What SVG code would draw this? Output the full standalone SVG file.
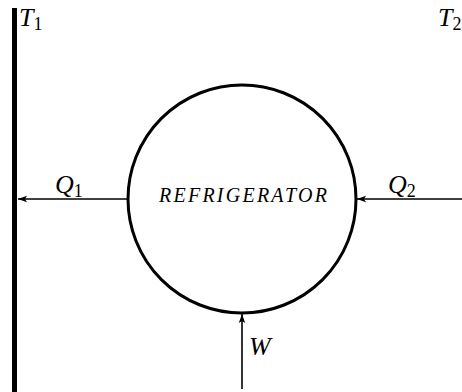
<svg xmlns="http://www.w3.org/2000/svg" width="462" height="392" viewBox="0 0 462 392">
<style>
text{font-family:'Liberation Serif','DejaVu Serif',serif;fill:#000}
.lbl{font-style:italic;font-size:26px}
.sub{font-style:normal;font-size:18px}
.ln{stroke:#000;stroke-width:1.6;fill:none}
</style>
<defs>
<marker id="ah" markerWidth="10" markerHeight="8" refX="9" refY="4" orient="auto" markerUnits="userSpaceOnUse">
<path d="M0,0.8 L9,4 L0,7.2 L2,4 Z" fill="#000"/>
</marker>
</defs>
<g id="reservoir">
<rect x="12" y="8" width="5" height="384" fill="#000"/>
<text class="lbl" x="19" y="26">T<tspan class="sub" dy="4">1</tspan></text>
</g>
<g id="t2">
<text class="lbl" x="438" y="26">T<tspan class="sub" dy="4">2</tspan></text>
</g>
<g id="refrigerator">
<circle cx="242" cy="199" r="114" fill="none" stroke="#000" stroke-width="3"/>
<text x="159" y="202" font-style="italic" font-size="20" textLength="168" lengthAdjust="spacing">REFRIGERATOR</text>
</g>
<g id="connectors">
<line class="ln" x1="128" y1="199" x2="18" y2="199" marker-end="url(#ah)"/>
<line class="ln" x1="462" y1="199" x2="357" y2="199" marker-end="url(#ah)"/>
<line class="ln" x1="242" y1="389" x2="242" y2="314" marker-end="url(#ah)"/>
</g>
<g id="labels">
<text class="lbl" x="55" y="193">Q<tspan class="sub" dy="4">1</tspan></text>
<text class="lbl" x="388" y="193">Q<tspan class="sub" dy="4">2</tspan></text>
<text class="lbl" x="249" y="355">W</text>
</g>
</svg>
